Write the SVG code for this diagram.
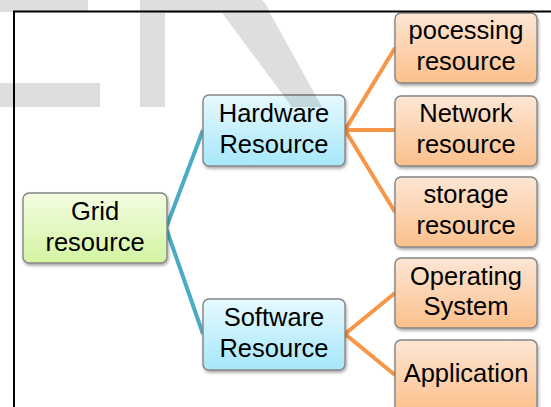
<svg xmlns="http://www.w3.org/2000/svg" width="551" height="407" viewBox="0 0 551 407">
  <defs>
    <linearGradient id="gGreen" x1="0" y1="0" x2="0" y2="1">
      <stop offset="0" stop-color="#f3fde2"/>
      <stop offset="1" stop-color="#d3f4a2"/>
    </linearGradient>
    <linearGradient id="gBlue" x1="0" y1="0" x2="0" y2="1">
      <stop offset="0" stop-color="#e6f9fe"/>
      <stop offset="1" stop-color="#a6e7fa"/>
    </linearGradient>
    <linearGradient id="gOrange" x1="0" y1="0" x2="0" y2="1">
      <stop offset="0" stop-color="#fde6d4"/>
      <stop offset="1" stop-color="#fbc08c"/>
    </linearGradient>
    <filter id="shadow" x="-10%" y="-10%" width="130%" height="140%">
      <feDropShadow dx="1" dy="2" stdDeviation="1.5" flood-color="#000" flood-opacity="0.35"/>
    </filter>
  </defs>
  <style>
    .box { stroke: #858585; stroke-width: 1.4; filter: url(#shadow); }
    .green { fill: url(#gGreen); }
    .blue { fill: url(#gBlue); }
    .orange { fill: url(#gOrange); }
    .lbl { font-family: "Liberation Sans", Arial, sans-serif; font-size: 25.5px; fill: #000; text-anchor: middle; }
    .cb { stroke: #4aacc5; stroke-width: 4; fill: none; stroke-linejoin: miter; }
    .co { stroke: #f79646; stroke-width: 4; fill: none; stroke-linejoin: miter; }
    .wm { fill: #000; fill-opacity: 0.13; }
  </style>
  <rect width="551" height="407" fill="#fff"/>

  <g id="connectors">
    <polyline class="cb" points="203,130 166,228 203,334"/>
    <polyline class="co" points="395,48 345,130 395,212"/>
    <line class="co" x1="345" y1="130" x2="395" y2="130"/>
    <polyline class="co" points="395,293 345,334 395,375"/>
  </g>

  <g id="grid-resource">
    <rect class="box green" x="23" y="193" width="144" height="70" rx="6"/>
    <text class="lbl" x="95" y="220">Grid</text>
    <text class="lbl" x="95" y="251">resource</text>
  </g>
  <g id="hardware-resource">
    <rect class="box blue" x="203" y="95" width="142" height="71" rx="6"/>
    <text class="lbl" x="274" y="122">Hardware</text>
    <text class="lbl" x="274" y="153">Resource</text>
  </g>
  <g id="software-resource">
    <rect class="box blue" x="203" y="299" width="142" height="71" rx="6"/>
    <text class="lbl" x="274" y="326">Software</text>
    <text class="lbl" x="274" y="357">Resource</text>
  </g>
  <g id="processing-resource">
    <rect class="box orange" x="395" y="13" width="142" height="70" rx="6"/>
    <text class="lbl" x="466" y="39">pocessing</text>
    <text class="lbl" x="466" y="70">resource</text>
  </g>
  <g id="network-resource">
    <rect class="box orange" x="395" y="96" width="142" height="70" rx="6"/>
    <text class="lbl" x="466" y="122">Network</text>
    <text class="lbl" x="466" y="153">resource</text>
  </g>
  <g id="storage-resource">
    <rect class="box orange" x="395" y="177" width="142" height="70" rx="6"/>
    <text class="lbl" x="466" y="203">storage</text>
    <text class="lbl" x="466" y="234">resource</text>
  </g>
  <g id="operating-system">
    <rect class="box orange" x="395" y="258" width="142" height="70" rx="6"/>
    <text class="lbl" x="466" y="285">Operating</text>
    <text class="lbl" x="466" y="315">System</text>
  </g>
  <g id="application">
    <rect class="box orange" x="395" y="340" width="142" height="72" rx="6"/>
    <text class="lbl" x="466" y="382">Application</text>
  </g>

  <g id="frame">
    <polyline points="14,407 14,11.5 551,11.5" fill="none" stroke="#000" stroke-width="2"/>
  </g>

  <g id="watermark">
    <rect class="wm" x="0" y="0" width="88" height="12"/>
    <rect class="wm" x="0" y="83" width="100" height="24"/>
    <rect class="wm" x="140" y="0" width="25" height="107"/>
    <path class="wm" d="M165,0 L262,0 Q268,6 270,13 L322,107 L292,107 L222,13 L165,13 Z"/>
  </g>
</svg>
